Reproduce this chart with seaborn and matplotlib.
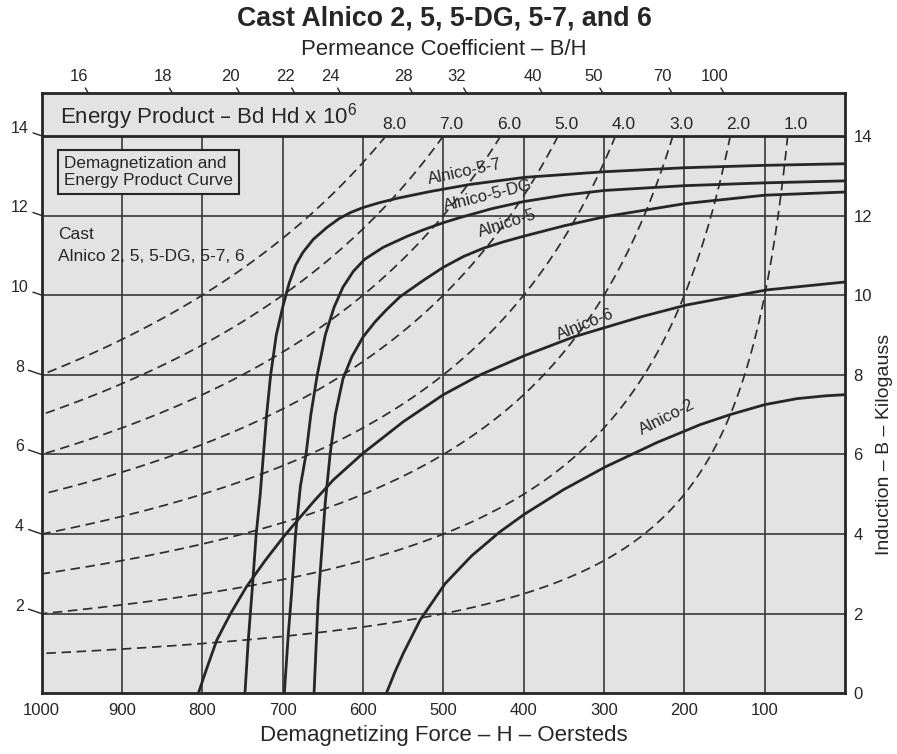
import numpy as np
import pandas as pd
import matplotlib
matplotlib.use('Agg')
import matplotlib.pyplot as plt
import seaborn as sns

# demagnetization curves: H in oersteds, B in kilogauss
alnico_57_h = [747, 743, 738, 733, 728, 724, 720, 715, 708, 700, 692, 684, 675, 662, 645, 630, 615, 600, 580, 558, 517, 467, 398, 299, 199, 100, 0]
alnico_57_b = [0, 1.3, 2.6, 4.0, 5.0, 6.0, 7.0, 8.0, 9.0, 9.7, 10.3, 10.75, 11.07, 11.4, 11.7, 11.92, 12.08, 12.2, 12.32, 12.43, 12.6, 12.78, 12.96, 13.1, 13.2, 13.26, 13.3]

alnico_5dg_h = [698, 693, 689, 684, 678, 671, 665, 657, 647, 636, 625, 612, 598, 575, 546, 525, 500, 479, 440, 400, 350, 299, 199, 100, 0]
alnico_5dg_b = [0, 1.5, 2.5, 4.0, 5.2, 6.0, 7.0, 8.0, 9.0, 9.7, 10.2, 10.6, 10.9, 11.2, 11.47, 11.64, 11.82, 11.95, 12.17, 12.35, 12.51, 12.63, 12.75, 12.82, 12.87]

alnico_5_h = [661, 656, 647, 641, 634.5, 625, 614, 600, 585, 571, 554, 525, 500, 475, 450, 425, 400, 350, 299, 199, 100, 0]
alnico_5_b = [0, 2.3, 4.8, 6.0, 7.0, 7.9, 8.45, 8.95, 9.33, 9.63, 9.96, 10.37, 10.7, 10.97, 11.18, 11.34, 11.48, 11.74, 11.97, 12.3, 12.51, 12.59]

alnico_6_h = [805, 795, 782, 765, 745, 722, 699, 678, 660, 637, 600, 550, 500, 454, 399, 338, 255, 198, 98, 0]
alnico_6_b = [0, 0.6, 1.34, 2.0, 2.68, 3.33, 3.93, 4.43, 4.85, 5.36, 6.03, 6.82, 7.5, 8.0, 8.48, 8.95, 9.45, 9.75, 10.13, 10.33]

alnico_2_h = [571, 560, 550, 529, 498, 465, 430, 399, 350, 298, 234, 180, 143, 100, 60, 25, 0]
alnico_2_b = [0, 0.55, 1.0, 1.84, 2.75, 3.45, 4.05, 4.5, 5.12, 5.69, 6.3, 6.75, 7.0, 7.25, 7.4, 7.47, 7.5]

curve_names = ['Alnico-5-7', 'Alnico-5-DG', 'Alnico-5', 'Alnico-6', 'Alnico-2']
# where the curve names sit (H, B) and their slant
label_h = [473, 445, 420, 324, 222]
label_b = [13.09, 12.51, 11.81, 9.27, 6.93]
label_rot = [12, 14, 18, 22, 27]

energy_products = [8.0, 7.0, 6.0, 5.0, 4.0, 3.0, 2.0, 1.0]   # Bd Hd x 10^6
permeance = [16, 18, 20, 22, 24, 28, 32, 40, 50, 70, 100]     # B/H
h_ticks = [1000, 900, 800, 700, 600, 500, 400, 300, 200, 100]
b_left = [2, 4, 6, 8, 10, 12, 14]
b_right = [0, 2, 4, 6, 8, 10, 12, 14]

B_TOP = 15.07
INK = '#262626'
GREY = '#e3e3e3'

curves = pd.concat([
    pd.DataFrame({'alloy': name, 'H': h, 'B': b})
    for name, h, b in zip(curve_names,
                          [alnico_57_h, alnico_5dg_h, alnico_5_h, alnico_6_h, alnico_2_h],
                          [alnico_57_b, alnico_5dg_b, alnico_5_b, alnico_6_b, alnico_2_b])
], ignore_index=True)

# iso energy-product lines, B * H = const, from the left edge up to B = 14 kG
iso = []
for e in energy_products:
    h = np.geomspace(1000 * e / 14, 1000, 80)
    iso.append(pd.DataFrame({'E': e, 'H': h, 'B': 1000 * e / h}))
iso = pd.concat(iso, ignore_index=True)

sns.set_theme(style='white')
plt.rcParams['font.family'] = ['Liberation Sans', 'DejaVu Sans']
plt.rcParams['mathtext.default'] = 'regular'
plt.rcParams['text.color'] = INK

fig = plt.figure(figsize=(8.97, 7.54), dpi=100)
ax = fig.add_axes([0.0465, 0.0805, 0.8956, 0.7958])
ax.set_facecolor(GREY)

# grid stops at the 14 kG line, above it is the energy product band
ax.vlines(h_ticks[1:], 0, 14, color='#383838', lw=1.2, zorder=1)
ax.hlines(b_left[:-1], 1000, 0, color='#383838', lw=1.2, zorder=1)
ax.axhline(14, color=INK, lw=2, zorder=2)

sns.lineplot(data=iso, x='H', y='B', units='E', estimator=None, sort=False,
             color='#2e2e2e', lw=1.25, linestyle=(0, (5.5, 3.2)), ax=ax, zorder=3)
sns.lineplot(data=curves, x='H', y='B', units='alloy', estimator=None, sort=False,
             color=INK, lw=2.0, ax=ax, zorder=4)

ax.set_xlim(1000, 0)
ax.set_ylim(0, B_TOP)
for s in ax.spines.values():
    s.set_color(INK)
    s.set_linewidth(2)

ax.set_xticks(h_ticks)
ax.set_xticklabels([str(h) for h in h_ticks])
ax.tick_params(axis='x', length=0, pad=7, labelsize=12, colors=INK)
ax.set_yticks([])
ax.set_xlabel('Demagnetizing Force – H – Oersteds', fontsize=16, labelpad=5)
ax.set_ylabel('')

# left labels with their little slanted ticks
for b in b_left:
    ax.annotate(str(b), xy=(1000, b), xytext=(-16, 5.5), textcoords='offset points',
                ha='center', va='center', fontsize=11.5, annotation_clip=False,
                arrowprops=dict(arrowstyle='-', color=INK, lw=1, shrinkA=1, shrinkB=0))

# permeance coefficient marks along the top edge
for p in permeance:
    ax.annotate(str(p), xy=(1000 * B_TOP / p, B_TOP), xytext=(-7, 12), textcoords='offset points',
                ha='center', va='center', fontsize=12, annotation_clip=False,
                arrowprops=dict(arrowstyle='-', color=INK, lw=1, shrinkA=0.5, shrinkB=0))

for e in energy_products:
    ax.text(1000 * e / 14 - 10, 14.28, f'{e:.1f}', ha='center', va='center', fontsize=12.5)

ax.text(977, 14.48, 'Energy Product – Bd Hd x 10$^{6}$', ha='left', va='center', fontsize=16)

for name, h, b, r in zip(curve_names, label_h, label_b, label_rot):
    ax.text(h, b, name, rotation=r, rotation_mode='anchor', ha='center', va='center',
            fontsize=12, zorder=5)

ax.text(972, 13.5, 'Demagnetization and\nEnergy Product Curve', ha='left', va='top',
        fontsize=12.3, linespacing=1.2, zorder=5,
        bbox=dict(boxstyle='square,pad=0.35', facecolor=GREY, edgecolor=INK, lw=1.5))
ax.text(980, 11.72, 'Cast\nAlnico 2, 5, 5-DG, 5-7, 6', ha='left', va='top',
        fontsize=12.5, linespacing=1.62)

# right axis: induction
ax2 = ax.twinx()
ax2.set_ylim(0, B_TOP)
ax2.set_yticks(b_right)
ax2.set_yticklabels([str(b) for b in b_right])
ax2.tick_params(axis='y', length=0, pad=6, labelsize=12, colors=INK)
for s in ax2.spines.values():
    s.set_visible(False)
ax2.set_ylabel('Induction – B – Kilogauss', fontsize=14)
ax2.yaxis.set_label_coords(1.0386, 0.415)

fig.text(0.495, 0.976, 'Cast Alnico 2, 5, 5-DG, 5-7, and 6', ha='center', va='center',
         fontsize=19.3, fontweight='bold')
fig.text(0.495, 0.935, 'Permeance Coefficient – B/H', ha='center', va='center', fontsize=15.9)

fig.savefig('out.png', dpi=100, facecolor='white')
